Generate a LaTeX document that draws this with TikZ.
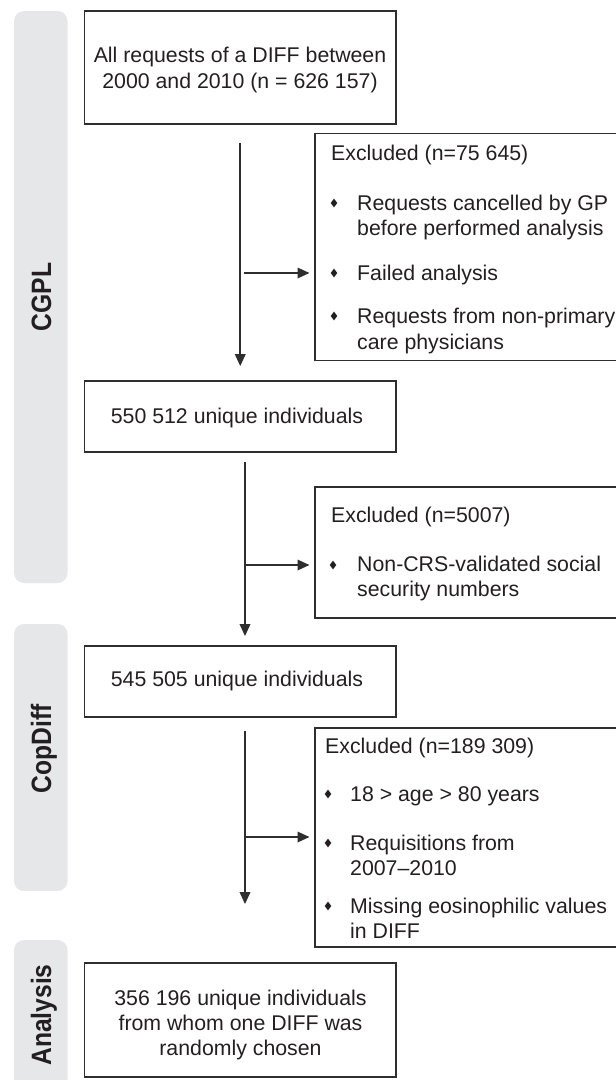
\documentclass[tikz,border=0pt]{standalone}
\usepackage{fontspec}
\setmainfont{Liberation Sans}
\newfontfamily\labfont[FakeStretch=0.88]{Liberation Sans}
\usetikzlibrary{arrows.meta}
\definecolor{txt}{HTML}{231F20}
\definecolor{ln}{HTML}{2E2E2E}
\definecolor{bandc}{HTML}{E6E7E8}
\begin{document}
\begin{tikzpicture}[x=1pt,y=-1pt,
  bandbox/.style={fill=bandc, rounded corners=10pt},
  cbox/.style={draw=ln, line width=1.8pt, minimum width=311.5pt, inner sep=0pt},
  exbox/.style={draw=ln, line width=1.8pt, inner sep=0pt, anchor=north west},
  tx/.style={text=txt, inner sep=0pt, font=\fontsize{21.3pt}{25.4pt}\selectfont},
  ltx/.style={tx, anchor=base west},
  ctx/.style={tx, align=center},
  lab/.style={text=txt, inner sep=0pt, rotate=90, anchor=base, font=\labfont\bfseries\fontsize{28pt}{30pt}\selectfont},
  arr/.style={draw=ln, line width=1.8pt, -{Triangle[length=12pt,width=10.5pt]}},
  bul/.pic={\fill[txt] (0,-4.4) -- (3.3,0) -- (0,4.4) -- (-3.3,0) -- cycle;}
]
\useasboundingbox (0,0) rectangle (616,1080);
\clip (0,0) rectangle (616,1080);

% side bands
\fill[bandbox] (14,11) rectangle (67.5,583);
\fill[bandbox] (14,624) rectangle (67.5,891);
\fill[bandbox] (14,940) rectangle (67.5,1100);
\node[lab] (lcgpl) at (51,297) {CGPL};
\node[lab] (lcop) at (51,749) {CopDiff};
\node[lab] (lana) at (51,1015) {Analysis};

% main boxes
\node[cbox, minimum height=113pt] (b1) at (240.25,67.75) {};
\node[ctx] (t1) at (240,70) {All requests of a DIFF between\\2000 and 2010 (n = 626 157)};
\node[cbox, minimum height=71pt] (b2) at (240.25,416.5) {};
\node[tx, anchor=base] (t2) at (237,423) {550 512 unique individuals};
\node[cbox, minimum height=71pt] (b3) at (240.25,681.5) {};
\node[tx, anchor=base] (t3) at (237,686) {545 505 unique individuals};
\node[cbox, minimum height=114pt] (b4) at (240.25,1020) {};
\node[ctx] (t4) at (240.5,1025) {356 196 unique individuals\\from whom one DIFF was\\randomly chosen};

% exclusion boxes
\node[exbox, minimum width=320pt, minimum height=227pt] (ex1) at (314,132.5) {};
\node[ltx] (h1) at (331,160) {Excluded (n=75 645)};
\pic at (334,203) {bul};
\node[ltx] (i1a) at (357,210) {Requests cancelled by GP};
\node[ltx] (i1b) at (357,235) {before performed analysis};
\pic at (334,273) {bul};
\node[ltx] (i1c) at (357,280) {Failed analysis};
\pic at (334,316) {bul};
\node[ltx] (i1d) at (357,323) {Requests from non-primary};
\node[ltx] (i1e) at (357,349) {care physicians};

\node[exbox, minimum width=320pt, minimum height=131pt] (ex2) at (314,486) {};
\node[ltx] (h2) at (331,522) {Excluded (n=5007)};
\pic at (333,565) {bul};
\node[ltx] (i2a) at (357,571.5) {Non-CRS-validated social};
\node[ltx] (i2b) at (357,596.5) {security numbers};

\node[exbox, minimum width=320pt, minimum height=219pt] (ex3) at (314,727) {};
\node[ltx] (h3) at (325,753) {Excluded (n=189 309)};
\pic at (328,794) {bul};
\node[ltx] (i3a) at (350,801) {18 > age > 80 years};
\pic at (328,843) {bul};
\node[ltx] (i3b) at (350,850) {Requisitions from};
\node[ltx] (i3c) at (350,875) {2007--2010};
\pic at (328,906) {bul};
\node[ltx] (i3d) at (350,913) {Missing eosinophilic values};
\node[ltx] (i3e) at (350,938) {in DIFF};

% connectors
\coordinate (j1) at (244,273);
\coordinate (j2) at (245,565);
\coordinate (j3) at (245,837);
\draw[arr] ([yshift=-18pt]b1.south) -- ([yshift=14pt]b2.north);
\draw[arr] (j1) -- ([xshift=-4.5pt]ex1.west |- j1);
\draw[arr] ([xshift=4.75pt,yshift=-9pt]b2.south) -- ([xshift=4.75pt,yshift=9pt]b3.north);
\draw[arr] (j2) -- ([xshift=-4.5pt]ex2.west |- j2);
\draw[arr] ([xshift=4.75pt,yshift=-13pt]b3.south) -- ([xshift=4.75pt,yshift=58pt]b4.north);
\draw[arr] (j3) -- ([xshift=-4.5pt]ex3.west |- j3);
\end{tikzpicture}
\end{document}
